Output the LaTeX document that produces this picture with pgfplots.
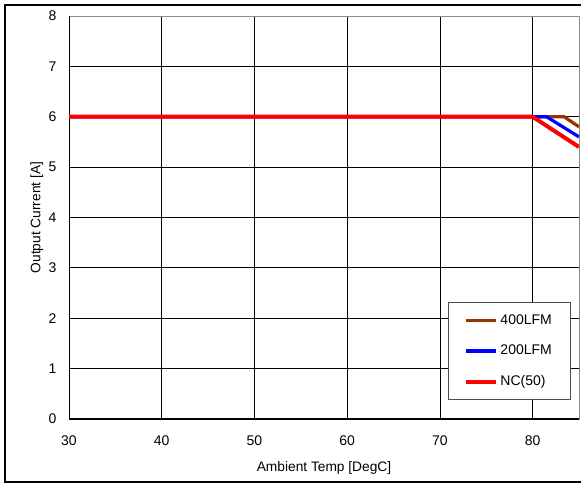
\documentclass[border=0pt]{standalone}
\usepackage{fontspec}
\setmainfont{Liberation Sans}
\usepackage{pgfplots}
\pgfplotsset{compat=1.18}
\definecolor{lfmbrown}{RGB}{153,51,0}
\begin{document}
\fontsize{10}{12}\selectfont
\begin{tikzpicture}
\useasboundingbox (0pt,0pt) rectangle (435.75pt,363.75pt);
\draw[black,line width=0.9pt] (3.75pt,2.25pt) rectangle (442pt,360pt);
\begin{axis}[
  at={(51.75pt,49.5pt)}, anchor=south west,
  scale only axis,
  width=382.5pt, height=302.25pt,
  xmin=30, xmax=85, ymin=0, ymax=8,
  xtick={30,40,...,80}, ytick={0,1,...,8},
  grid=major,
  major grid style={black, line width=0.6pt},
  axis line style={black!45},
  tick style={draw=none},
  xlabel={Ambient Temp [DegC]},
  ylabel={Output Current [A]},
  label style={font=\fontsize{10.3}{12}\selectfont},
  xlabel style={yshift=-5pt},
  ylabel style={yshift=-3pt},
  ticklabel style={font=\fontsize{10.5}{12}\selectfont},
  xticklabel style={yshift=-9pt},
  yticklabel style={xshift=-6pt},
  /pgf/number format/assume math mode=true,
  legend cell align=left,
  legend style={at={(0.743,0.290)}, anchor=north west, draw=black!70,
    line width=0.8pt, inner xsep=12pt, inner ysep=7pt, row sep=10pt,
    font=\fontsize{10.5}{12}\selectfont},
  legend image code/.code={\draw[#1] (0pt,0pt) -- (22pt,0pt);},
]
\draw[black, line width=1pt] (rel axis cs:0,1) -- (rel axis cs:0,0) -- (rel axis cs:1,0);
\addplot[lfmbrown, line width=2.4pt] coordinates {(30,6) (83.4,6) (85,5.8)};
\addplot[blue, line width=2.4pt] coordinates {(30,6) (81.5,6) (85,5.6)};
\addplot[red, line width=3pt] coordinates {(30,6) (80,6) (85,5.4)};
\legend{400LFM, 200LFM, NC(50)}
\end{axis}
\end{tikzpicture}
\end{document}
